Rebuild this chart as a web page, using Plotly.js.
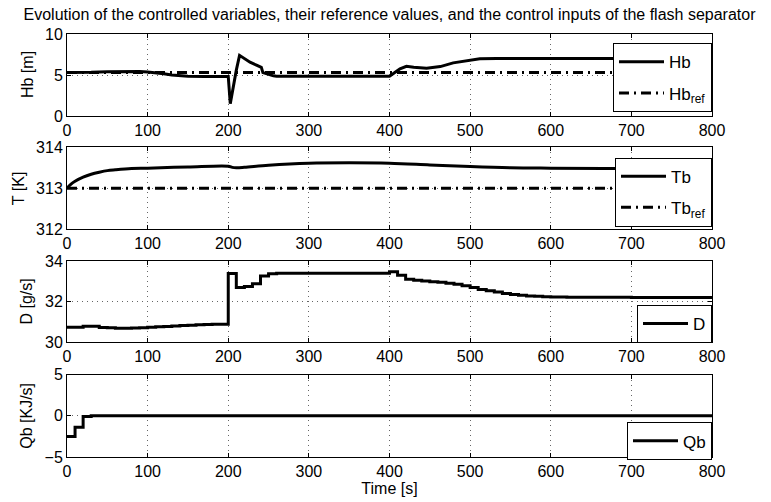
<!DOCTYPE html>
<html>
<head>
<meta charset="utf-8">
<script src="https://cdn.plot.ly/plotly-3.0.1.min.js"></script>
<style>html,body{margin:0;padding:0;background:#fff;}#chart{width:771px;height:502px;}</style>
</head>
<body>
<div id="chart"></div>
<script>
// ---- data ----
const hbTime = [0, 10, 20, 30, 50, 70, 90, 100, 110, 120, 130, 140, 150, 170, 190, 200, 202.5, 206, 210, 214, 217, 221, 227, 235, 241, 243, 250, 256, 260, 300, 350, 400, 407, 413, 421, 430, 446, 463, 479, 496, 512, 533, 600, 700, 800];
const hb     = [5.3, 5.3, 5.28, 5.33, 5.4, 5.43, 5.42, 5.38, 5.3, 5.15, 5.0, 4.9, 4.84, 4.82, 4.82, 4.82, 1.5, 3.5, 5.6, 7.4, 7.2, 6.97, 6.56, 6.2, 5.94, 5.3, 5.05, 4.9, 4.85, 4.85, 4.85, 4.84, 5.34, 5.75, 6.07, 5.95, 5.83, 6.03, 6.48, 6.77, 6.97, 7.0, 7.0, 7.0, 7.0];
const hbRefTime = [0, 800];
const hbRef     = [5.3, 5.3];

const tbTime = [0, 5, 10, 20, 30, 40, 50, 60, 80, 100, 150, 200, 205, 210, 220, 250, 300, 350, 400, 450, 500, 550, 600, 700, 800];
const tb     = [313.0, 313.1, 313.17, 313.27, 313.34, 313.39, 313.43, 313.45, 313.48, 313.49, 313.52, 313.54, 313.51, 313.5, 313.51, 313.56, 313.61, 313.62, 313.61, 313.57, 313.53, 313.5, 313.49, 313.48, 313.48];
const tbRefTime = [0, 800];
const tbRef     = [313, 313];

const dTime = [0, 10, 20, 30, 40, 50, 60, 70, 80, 90, 100, 110, 120, 130, 140, 150, 160, 170, 180, 190,
               200, 210, 220, 230, 240, 250, 260, 300, 350, 390,
               400, 410, 420, 430, 440, 450, 460, 470, 480, 490, 500, 510, 520, 530, 540, 550, 560, 570, 580, 590,
               600, 610, 620, 650, 700, 800];
const d     = [30.73, 30.73, 30.78, 30.78, 30.72, 30.7, 30.68, 30.68, 30.69, 30.7, 30.73, 30.75, 30.77, 30.79, 30.81, 30.83, 30.85, 30.86, 30.87, 30.88,
               33.39, 32.7, 32.75, 32.88, 33.26, 33.38, 33.4, 33.4, 33.4, 33.4,
               33.47, 33.3, 33.1, 33.05, 33.02, 32.98, 32.95, 32.9, 32.86, 32.78, 32.7, 32.6, 32.53, 32.47, 32.4, 32.35, 32.31, 32.28, 32.26, 32.24,
               32.23, 32.22, 32.21, 32.21, 32.2, 32.2];

const qbTime = [0, 10, 20, 30, 800];
const qb     = [-2.5, -1.4, -0.1, 0, 0];

const xTicks = [0, 100, 200, 300, 400, 500, 600, 700, 800];
const hbTicks = [0, 5, 10];
const tbTicks = [312, 313, 314];
const dTicks  = [30, 32, 34];
const qbTicks = [-5, 0, 5];
const yTitles = ['Hb [m]', 'T [K]', 'D [g/s]', 'Qb [KJ/s]'];

// ---- styling ----
const NARROW = '"Liberation Sans Narrow", "Liberation Sans", Arial, sans-serif';
const REG = '"Liberation Sans", Arial, sans-serif';
const refDash = '10px,5px,2px,5px';
const domains = [[0.806, 1], [0.539, 0.732], [0.272, 0.463], [0, 0.195]];
const titleX = [-0.062, -0.076, -0.062, -0.062];

const traces = [
  {x: hbTime, y: hb, name: 'Hb', mode: 'lines', line: {color: 'black', width: 3}, xaxis: 'x', yaxis: 'y', legend: 'legend', legendgroup: 'a'},
  {x: hbRefTime, y: hbRef, name: 'Hb<sub>ref</sub>', mode: 'lines', line: {color: 'black', width: 3, dash: refDash}, xaxis: 'x', yaxis: 'y', legend: 'legend', legendgroup: 'b'},
  {x: tbTime, y: tb, name: 'Tb', mode: 'lines', line: {color: 'black', width: 3, shape: 'spline'}, xaxis: 'x2', yaxis: 'y2', legend: 'legend2', legendgroup: 'c'},
  {x: tbRefTime, y: tbRef, name: 'Tb<sub>ref</sub>', mode: 'lines', line: {color: 'black', width: 3, dash: refDash}, xaxis: 'x2', yaxis: 'y2', legend: 'legend2', legendgroup: 'd'},
  {x: dTime, y: d, name: 'D', mode: 'lines', line: {color: 'black', width: 3, shape: 'hv'}, xaxis: 'x3', yaxis: 'y3', legend: 'legend3'},
  {x: qbTime, y: qb, name: 'Qb', mode: 'lines', line: {color: 'black', width: 3, shape: 'hv'}, xaxis: 'x4', yaxis: 'y4', legend: 'legend4'}
];

const gridStyle = {showgrid: true, gridcolor: '#666', griddash: '1px,4px', gridwidth: 1};

function xax(anchor) {
  return Object.assign({
    anchor: anchor, range: [0, 800], tickvals: xTicks, ticks: 'inside', ticklen: 4, tickcolor: 'black',
    showline: true, linecolor: 'black', linewidth: 1, mirror: 'ticks', zeroline: false,
    tickfont: {family: NARROW, size: 16, color: 'black'}
  }, gridStyle);
}
function yax(anchor, range, ticks, domain) {
  return Object.assign({
    anchor: anchor, range: range, tickvals: ticks, domain: domain, ticks: 'inside', ticklen: 4, tickcolor: 'black',
    showline: true, linecolor: 'black', linewidth: 1, mirror: 'ticks', zeroline: false,
    tickfont: {family: NARROW, size: 16, color: 'black'}
  }, gridStyle);
}
function leg(y) {
  return {
    x: 1, xanchor: 'right', y: y, yanchor: 'top', bgcolor: 'white', bordercolor: 'black', borderwidth: 1,
    font: {family: NARROW, size: 17, color: 'black'}, tracegroupgap: 6, traceorder: 'grouped', itemwidth: 45
  };
}

const annotations = yTitles.map((t, i) => ({
  text: t, xref: 'paper', yref: 'paper', x: titleX[i], y: (domains[i][0] + domains[i][1]) / 2,
  xanchor: 'center', yanchor: 'middle', textangle: -90, showarrow: false,
  font: {family: REG, size: 16, color: 'black'}
}));

const layout = {
  width: 771, height: 502,
  margin: {l: 67, r: 59, t: 34, b: 45},
  paper_bgcolor: 'white', plot_bgcolor: 'white',
  showlegend: true,
  title: {text: 'Evolution of the controlled variables, their reference values, and the control inputs of the flash separator',
          font: {family: NARROW, size: 16, color: 'black'}, x: 0.5, xref: 'paper', y: 0.972, yref: 'container', yanchor: 'middle'},
  xaxis: xax('y'),
  xaxis2: xax('y2'),
  xaxis3: xax('y3'),
  xaxis4: Object.assign(xax('y4'), {title: {text: 'Time [s]', font: {family: NARROW, size: 16, color: 'black'}, standoff: 2}}),
  yaxis: yax('x', [0, 10], hbTicks, domains[0]),
  yaxis2: yax('x2', [312, 314], tbTicks, domains[1]),
  yaxis3: yax('x3', [30, 34], dTicks, domains[2]),
  yaxis4: yax('x4', [-5, 5], qbTicks, domains[3]),
  legend: leg(0.978),
  legend2: leg(0.7076),
  legend3: leg(0.3593),
  legend4: leg(0.082),
  annotations: annotations
};

Plotly.newPlot('chart', traces, layout, {displayModeBar: false, staticPlot: true});
</script>
</body>
</html>
